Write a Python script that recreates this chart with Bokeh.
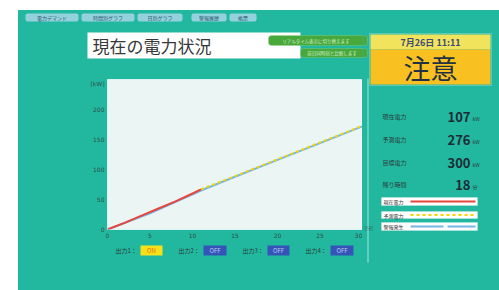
from bokeh.plotting import figure
from bokeh.models import Range1d, Label, BoxAnnotation, FixedTicker
from bokeh.layouts import row, column
from bokeh.embed import file_html
from bokeh.resources import INLINE

# ---------------- data ----------------
t_actual = [0, 2, 4, 6, 8, 10, 11]
kw_actual = [0, 11, 23, 35, 47, 60, 67]
t_forecast = [11, 15, 20, 25, 30]
kw_forecast = [67, 89, 117, 145, 173]
t_alarm = [0, 5, 11, 15, 20, 25, 30]
kw_alarm = [0, 27, 65, 88, 116, 144, 172]
x_ticks = [0, 5, 10, 15, 20, 25, 30]
y_ticks = [0, 50, 100, 150, 200]
y_unit = "[kW]"
x_unit = "[分]"

menu_labels = ["電力デマンド", "時間別グラフ", "日別グラフ", "警報履歴", "帳票"]
title_text = "現在の電力状況"
button_labels = ["リアルタイム表示に切り替えます", "前日同時刻と比較します"]
date_text = "7月26日 11:11"
status_text = "注意"
info_labels = ["現在電力", "予測電力", "目標電力", "残り時間"]
info_values = [107, 276, 300, 18]
info_units = ["kW", "kW", "kW", "分"]
legend_labels = ["現在電力", "予測電力", "警報発生"]
output_labels = ["出力1：", "出力2：", "出力3：", "出力4："]
output_states = ["ON", "OFF", "OFF", "OFF"]

# ---------------- styles ----------------
JP = "Noto Sans CJK JP"
TEAL = "#22b8a0"
RED = "#e8453c"
YEL = "#f5d400"
BLUE = "#74b6e6"
W, H = 481, 280          # whole panel
SPLIT_X, TOP_H, CHART_H = 344, 69, 164

decos = []   # (figure, (x0, x1, y0, y1))


def deco_fig(x0, x1, y0, y1):
    f = figure(width=x1 - x0, height=y1 - y0,
               x_range=Range1d(x0, x1), y_range=Range1d(y1, y0),
               x_axis_type=None, y_axis_type=None, title=None,
               toolbar_location=None, output_backend="svg", min_border=0,
               frame_align=False)
    f.background_fill_color = TEAL
    f.border_fill_color = TEAL
    f.outline_line_color = None
    f.grid.grid_line_color = None
    f.styles = {"background-color": TEAL}
    decos.append((f, (x0, x1, y0, y1)))
    return f


top_fig = deco_fig(0, SPLIT_X, 0, TOP_H)
bottom_fig = deco_fig(0, SPLIT_X, TOP_H + CHART_H, H)
right_fig = deco_fig(SPLIT_X, W, 0, H)

# ---------------- chart ----------------
p = figure(frame_width=255, frame_height=150,
           min_border_left=89, min_border_right=0,
           min_border_top=0, min_border_bottom=CHART_H - 150,
           x_range=Range1d(0, 30), y_range=Range1d(0, 250),
           title=None, toolbar_location=None, output_backend="svg",
           frame_align=False)
p.border_fill_color = TEAL
p.background_fill_color = "#eaf5f4"
p.outline_line_color = "#ffffff"
p.outline_line_alpha = 0.7
p.grid.grid_line_color = None
p.styles = {"background-color": TEAL}

p.xaxis.ticker = FixedTicker(ticks=x_ticks)
p.yaxis.ticker = FixedTicker(ticks=y_ticks + [243])
p.yaxis.major_label_overrides = {243: y_unit}
for ax in (p.xaxis, p.yaxis):
    ax.axis_line_color = None
    ax.major_tick_line_color = None
    ax.minor_tick_line_color = None
    ax.major_tick_out = 0
    ax.major_tick_in = 0
    ax.major_label_text_font_size = "6px"
    ax.major_label_text_color = "#2f4f4a"
    ax.major_label_text_font = "DejaVu Sans"
    ax.major_label_standoff = 3

p.line(t_alarm, kw_alarm, line_color=BLUE, line_width=2)
p.line(t_actual, kw_actual, line_color=RED, line_width=2)
p.line(t_forecast, kw_forecast, line_color=YEL, line_width=2, line_dash="3 3")


# ---------------- decoration helpers (panel pixel coordinates) ----------------
def box(l, t, r, b, fill, line=None, lw=1, radius=0, alpha=1.0):
    for f, (x0, x1, y0, y1) in decos:
        if l < x1 and r > x0 and t < y1 and b > y0:
            f.add_layout(BoxAnnotation(left=l, right=r, top=t, bottom=b,
                                       fill_color=fill, fill_alpha=alpha,
                                       line_color=line, line_width=lw,
                                       border_radius=radius))


def txt(x, y, s, size, color="#333333", align="left", bold=False, font=JP):
    for f, (x0, x1, y0, y1) in decos:
        if x0 <= x < x1 and y0 <= y < y1:
            f.add_layout(Label(x=x, y=y, text=s,
                               text_font=font, text_font_size=size, text_color=color,
                               text_align=align, text_baseline="middle",
                               text_font_style="bold" if bold else "normal"))
            break


# top menu
menu_x = [(7, 60), (63, 116), (119, 164), (173, 208), (211, 238)]
for (l, r), s in zip(menu_x, menu_labels):
    box(l, 3, r, 11, "#93d2dc", radius=2)
    txt((l + r) / 2, 7, s, "5px", "#2d5673", align="center")

# title bar
box(69, 22, 282, 48, "#ffffff")
txt(74, 35, title_text, "17px", "#383838")

# green buttons
btn_x = [(250, 25, 349, 35), (282, 38, 349, 47)]
for (l, t, r, b), s in zip(btn_x, button_labels):
    box(l, t, r, b, "#49a83c", line="#9ad98a", radius=3)
    txt((l + r) / 2 - 2, (t + b) / 2, s, "4.5px", "#d4f0cc", align="center")

# date / status
box(351, 23, 473, 75, None, line="#e8f6f0", lw=1)
box(352, 24, 472, 39, "#f1e45c")
txt(412, 31.5, date_text, "9px", "#3d4a7a", align="center", bold=True)
box(352, 39, 472, 74, "#f8c020")
txt(412, 57, status_text, "27px", "#1f3142", align="center")

# x unit
txt(346, 217, x_unit, "5px", "#2f4f4a")

# info panel
box(349, 68, 350, 252, "#c9ece4", alpha=0.8)
row_y = [106, 129, 152, 174]
for y, lab, v, u in zip(row_y, info_labels, info_values, info_units):
    txt(364, y, lab, "6px", "#2a3a3a")
    txt(452, y, str(v), "13px", "#1e2a36", align="right", bold=True)
    txt(454, y + 1.5, u, "5px", "#2a3a3a")

# legend boxes
leg_y = [(187, 195), (201, 208), (212, 220)]
for (t, b), lab in zip(leg_y, legend_labels):
    box(363, t, 459, b, "#ffffff", line="#dfe9e9")
    txt(365, (t + b) / 2, lab, "5px", "#333333")
(t, b) = leg_y[0]
box(392, (t + b) / 2 - 1, 457, (t + b) / 2 + 1, RED)
(t, b) = leg_y[1]
for i in range(11):
    dx = 392 + i * 6
    box(dx, (t + b) / 2 - 1, dx + 3, (t + b) / 2 + 1, YEL)
(t, b) = leg_y[2]
box(392, (t + b) / 2 - 1, 425, (t + b) / 2 + 1, BLUE)
box(429, (t + b) / 2 - 1, 457, (t + b) / 2 + 1, BLUE)

# outputs
out_x = [(97, 122, 144), (160, 185, 208), (224, 249, 271), (287, 312, 335)]
for (lx, l, r), lab, st in zip(out_x, output_labels, output_states):
    txt(lx, 240, lab, "6px", "#2a3a3a")
    on = st == "ON"
    box(l, 235, r, 245, "#f6e01a" if on else "#3554b8")
    txt((l + r) / 2, 240, st, "6px", "#f06a1a" if on else "#bccbf5", align="center")

left_col = column(top_fig, p, bottom_fig, styles={"background-color": TEAL})
layout = row(left_col, right_fig, margin=(10, 0, 0, 18),
             styles={"background-color": TEAL})
open("out.html", "w").write(file_html(layout, INLINE))
